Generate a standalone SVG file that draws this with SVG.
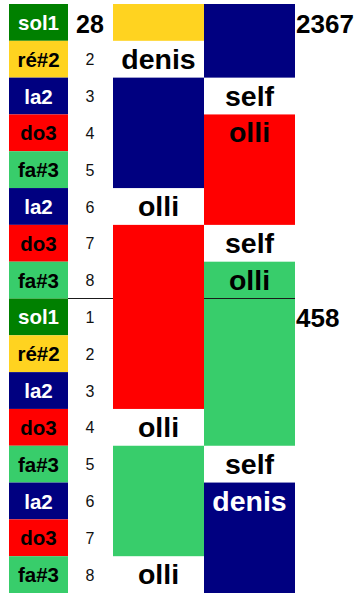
<svg xmlns="http://www.w3.org/2000/svg" width="357" height="594" viewBox="0 0 357 594">
<style>
text{font-family:"Liberation Sans",Arial,sans-serif}
.n{font-size:20.5px;font-weight:bold;text-anchor:middle}
.w{fill:#fff}
.b{fill:#000}
.num{font-size:16px;text-anchor:middle;fill:#111}
.lab{font-size:28.5px;font-weight:bold;text-anchor:middle;fill:#000}
.lab.w{fill:#fff}
.big{font-size:26px;font-weight:bold;fill:#000}
.g1{fill:#008000}.y{fill:#ffd320}.nv{fill:#000080}.r{fill:#ff0000}.g2{fill:#38cd6b}
</style>
<rect width="357" height="594" fill="#fff"/>
<g id="notes">
<g id="n1"><rect class="g1" x="9" y="4" width="59" height="36.81"/><text class="n w" x="38.5" y="29.9">sol1</text></g>
<g id="n2"><rect class="y" x="9" y="40.81" width="59" height="36.81"/><text class="n b" x="38.5" y="66.7">ré#2</text></g>
<g id="n3"><rect class="nv" x="9" y="77.63" width="59" height="36.81"/><text class="n w" x="38.5" y="103.5">la2</text></g>
<g id="n4"><rect class="r" x="9" y="114.44" width="59" height="36.81"/><text class="n b" x="38.5" y="140.3">do3</text></g>
<g id="n5"><rect class="g2" x="9" y="151.25" width="59" height="36.81"/><text class="n b" x="38.5" y="177.2">fa#3</text></g>
<g id="n6"><rect class="nv" x="9" y="188.06" width="59" height="36.81"/><text class="n w" x="38.5" y="214">la2</text></g>
<g id="n7"><rect class="r" x="9" y="224.88" width="59" height="36.81"/><text class="n b" x="38.5" y="250.8">do3</text></g>
<g id="n8"><rect class="g2" x="9" y="261.69" width="59" height="36.81"/><text class="n b" x="38.5" y="287.6">fa#3</text></g>
<g id="n9"><rect class="g1" x="9" y="298.5" width="59" height="36.81"/><text class="n w" x="38.5" y="324.4">sol1</text></g>
<g id="n10"><rect class="y" x="9" y="335.31" width="59" height="36.81"/><text class="n b" x="38.5" y="361.2">ré#2</text></g>
<g id="n11"><rect class="nv" x="9" y="372.13" width="59" height="36.81"/><text class="n w" x="38.5" y="398">la2</text></g>
<g id="n12"><rect class="r" x="9" y="408.94" width="59" height="36.81"/><text class="n b" x="38.5" y="434.8">do3</text></g>
<g id="n13"><rect class="g2" x="9" y="445.75" width="59" height="36.81"/><text class="n b" x="38.5" y="471.7">fa#3</text></g>
<g id="n14"><rect class="nv" x="9" y="482.56" width="59" height="36.81"/><text class="n w" x="38.5" y="508.5">la2</text></g>
<g id="n15"><rect class="r" x="9" y="519.38" width="59" height="36.81"/><text class="n b" x="38.5" y="545.3">do3</text></g>
<g id="n16"><rect class="g2" x="9" y="556.19" width="59" height="36.81"/><text class="n b" x="38.5" y="582.1">fa#3</text></g>
</g>
<g id="numbers">
<text class="big" x="90" y="32.5" text-anchor="middle" style="font-size:25px">28</text>
<text class="num" x="90" y="65.2">2</text>
<text class="num" x="90" y="102">3</text>
<text class="num" x="90" y="138.8">4</text>
<text class="num" x="90" y="175.7">5</text>
<text class="num" x="90" y="212.5">6</text>
<text class="num" x="90" y="249.3">7</text>
<text class="num" x="90" y="286.1">8</text>
<text class="num" x="90" y="322.9">1</text>
<text class="num" x="90" y="359.7">2</text>
<text class="num" x="90" y="396.5">3</text>
<text class="num" x="90" y="433.3">4</text>
<text class="num" x="90" y="470.2">5</text>
<text class="num" x="90" y="507">6</text>
<text class="num" x="90" y="543.8">7</text>
<text class="num" x="90" y="580.6">8</text>
</g>
<g id="connectors">
<line x1="68" y1="298.5" x2="113" y2="298.5" stroke="#1a1a1a" stroke-width="1.2"/>
</g>
<g id="col3">
<g id="c3a"><rect class="y" x="113" y="4" width="91" height="36.81"/></g>
<g id="c3b"><text class="lab" x="158.5" y="68.7">denis</text></g>
<g id="c3c"><rect class="nv" x="113" y="77.63" width="91" height="110.44"/></g>
<g id="c3d"><text class="lab" x="158.5" y="216">olli</text></g>
<g id="c3e"><rect class="r" x="113" y="224.88" width="91" height="184.06"/></g>
<g id="c3f"><text class="lab" x="158.5" y="436.8">olli</text></g>
<g id="c3g"><rect class="g2" x="113" y="445.75" width="91" height="110.44"/></g>
<g id="c3h"><text class="lab" x="158.5" y="584.1">olli</text></g>
</g>
<g id="col4">
<g id="c4a"><rect class="nv" x="204" y="4" width="91" height="73.63"/></g>
<g id="c4b"><text class="lab" x="249.5" y="105.5">self</text></g>
<g id="c4c"><rect class="r" x="204" y="114.44" width="91" height="110.44"/><text class="lab" x="249.5" y="142.3">olli</text></g>
<g id="c4d"><text class="lab" x="249.5" y="252.8">self</text></g>
<g id="c4e"><rect class="g2" x="204" y="261.69" width="91" height="184.06"/><text class="lab" x="249.5" y="289.6">olli</text></g>
<g id="c4f"><text class="lab" x="249.5" y="473.7">self</text></g>
<g id="c4g"><rect class="nv" x="204" y="482.56" width="91" height="110.44"/><text class="lab w" x="249.5" y="510.5">denis</text></g>
</g>
<g id="divider">
<line x1="204" y1="298.5" x2="295" y2="298.5" stroke="#1a1a1a" stroke-width="1.2"/>
</g>
<g id="totals">
<text class="big" x="296" y="33.3">2367</text>
<text class="big" x="296" y="326.7">458</text>
</g>
</svg>
